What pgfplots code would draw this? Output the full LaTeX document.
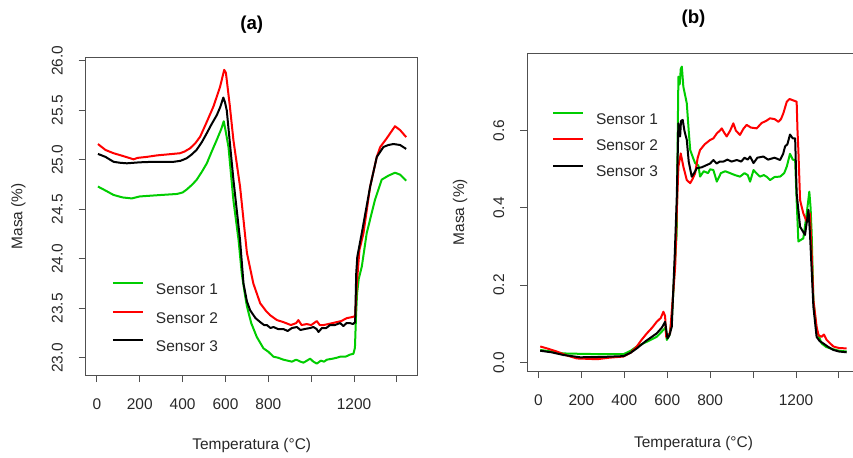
\documentclass[border=0pt]{standalone}
\usepackage{fontspec}
\setmainfont{Liberation Sans}
\usepackage{pgfplots}
\pgfplotsset{compat=1.18}

\definecolor{rgreen}{RGB}{0,205,0}
\definecolor{rred}{RGB}{255,0,0}
\definecolor{boxgray}{RGB}{80,80,80}
\definecolor{txt}{RGB}{40,40,40}

\pgfplotsset{
  rplot/.style={
    scale only axis,
    anchor=south west,
    axis line style={boxgray, line width=0.75pt},
    tick style={boxgray, line width=0.75pt},
    tick align=outside,
    major tick length=5.25pt,
    xtick pos=bottom, ytick pos=left,
    font=\fontsize{11.6}{13.9}\selectfont,
    every tick label/.append style={text=txt},
    /pgf/number format/assume math mode=true,
    xticklabel style={yshift=-9pt},
    yticklabel style={xshift=-8.5pt, rotate=90, anchor=south},
    xtick={0,200,400,600,800,1000,1200,1400},
    xticklabels={0,200,400,600,800,,1200,},
    xmin=-52, xmax=1497,
    xlabel={Temperatura (°C)},
    ylabel={Masa (\%)},
    label style={text=txt},
    title style={font=\fontsize{14}{16}\selectfont\bfseries, anchor=center},
    legend cell align=left,
    legend image code/.code={\draw[#1] (0pt,5.5pt) -- (22.5pt,5.5pt);},
    every axis plot/.append style={line width=1.5pt, line join=round},
  }
}

\begin{document}
\begin{tikzpicture}
\path[use as bounding box] (0,0) rectangle (639.75pt,342.75pt);

\begin{axis}[rplot,
  at={(64.3pt,61.5pt)}, width=249pt, height=238pt,
  ymin=22.825, ymax=26.033,
  ytick={23,23.5,24,24.5,25,25.5,26},
  yticklabels={23.0,23.5,24.0,24.5,25.0,25.5,26.0},
  title={(a)},
  title style={at={(axis description cs:0.5,1.0788)}},
  xlabel style={at={(axis description cs:0.5,-0.2215)}, anchor=center},
  ylabel style={at={(axis description cs:-0.2030,0.5)}, anchor=center},
  legend style={at={(axis description cs:0.0783,0.2925)}, anchor=north west,
    draw=none, fill=none, inner sep=0pt, column sep=9pt, row sep=9pt,
    nodes={inner sep=0pt, text height=9pt, text depth=3pt, text=txt}},
]
\addplot[rgreen] coordinates {(5,24.73) (40,24.69) (78,24.645) (120,24.62) (163,24.61) (200,24.63) (233,24.635) (300,24.645) (373,24.655) (400,24.67) (419,24.70) (445,24.75) (466,24.80) (490,24.88) (513,24.965) (535,25.08) (559,25.20) (580,25.31) (592,25.39) (600,25.30) (614,25.13) (637,24.59) (661,24.19) (676,23.85) (692,23.62) (700,23.52) (720,23.35) (746,23.21) (777,23.095) (800,23.06) (824,23.01) (845,23.00) (870,22.98) (890,22.97) (910,22.96) (930,22.98) (950,22.96) (964,22.95) (980,22.97) (995,22.99) (1010,22.96) (1026,22.94) (1045,22.97) (1060,22.96) (1073,22.98) (1100,22.99) (1120,23.00) (1135,23.01) (1160,23.01) (1180,23.03) (1197,23.04) (1204,23.10) (1209,23.42) (1214,23.65) (1222,23.80) (1236,23.92) (1259,24.26) (1298,24.60) (1329,24.80) (1360,24.84) (1391,24.87) (1415,24.85) (1443,24.79)};
\addlegendentry{Sensor 1}
\addplot[rred] coordinates {(5,25.16) (40,25.10) (78,25.067) (120,25.04) (150,25.02) (171,25.005) (190,25.02) (233,25.03) (280,25.045) (330,25.055) (388,25.067) (410,25.085) (435,25.117) (460,25.17) (482,25.235) (510,25.37) (544,25.54) (575,25.74) (594,25.91) (602,25.88) (620,25.55) (637,25.2) (668,24.73) (700,24.06) (730,23.75) (762,23.55) (790,23.47) (808,23.43) (840,23.38) (870,23.36) (905,23.33) (930,23.35) (940,23.38) (955,23.33) (979,23.34) (1000,23.33) (1026,23.37) (1040,23.33) (1057,23.33) (1080,23.34) (1100,23.35) (1119,23.36) (1140,23.37) (1166,23.40) (1190,23.41) (1205,23.42) (1213,23.75) (1225,24.09) (1244,24.26) (1275,24.73) (1306,25.03) (1322,25.13) (1353,25.22) (1391,25.34) (1415,25.30) (1443,25.23)};
\addlegendentry{Sensor 2}
\addplot[black] coordinates {(5,25.06) (40,25.03) (78,24.98) (110,24.97) (140,24.965) (200,24.975) (260,24.98) (300,24.98) (357,24.98) (390,24.99) (419,25.016) (440,25.05) (465,25.10) (490,25.18) (513,25.27) (535,25.36) (559,25.45) (575,25.53) (590,25.63) (598,25.58) (606,25.5) (637,24.80) (668,24.19) (684,23.75) (700,23.57) (715,23.48) (740,23.40) (762,23.36) (780,23.33) (793,23.33) (810,23.30) (824,23.31) (845,23.29) (870,23.29) (890,23.27) (910,23.30) (933,23.31) (950,23.28) (970,23.29) (995,23.30) (1010,23.31) (1025,23.29) (1034,23.26) (1050,23.30) (1070,23.30) (1088,23.33) (1110,23.33) (1135,23.35) (1150,23.32) (1165,23.35) (1181,23.35) (1195,23.34) (1205,23.36) (1210,23.85) (1215,24.02) (1236,24.26) (1275,24.73) (1306,25.03) (1337,25.13) (1360,25.15) (1384,25.16) (1415,25.15) (1443,25.11)};
\addlegendentry{Sensor 3}
\end{axis}

\begin{axis}[rplot,
  at={(395.5pt,64.5pt)}, width=249.3pt, height=238.3pt,
  ymin=-0.0225, ymax=0.8005,
  ytick={0,0.2,0.4,0.6},
  yticklabels={0.0,0.2,0.4,0.6},
  title={(b)},
  title style={at={(axis description cs:0.5,1.0828)}},
  xlabel style={at={(axis description cs:0.5,-0.2275)}, anchor=center},
  ylabel style={at={(axis description cs:-0.2025,0.5)}, anchor=center},
  legend style={at={(axis description cs:0.0734,0.816)}, anchor=north west,
    draw=none, fill=none, inner sep=0pt, column sep=9pt, row sep=7.5pt,
    nodes={inner sep=0pt, text height=9pt, text depth=3pt, text=txt}},
]
\addplot[rgreen] coordinates {(8,0.032) (60,0.028) (116,0.023) (194,0.022) (300,0.021) (396,0.021) (430,0.03) (458,0.041) (500,0.052) (551,0.066) (582,0.084) (592,0.09) (598,0.058) (610,0.07) (621,0.11) (635,0.25) (644,0.334) (649,0.6) (652,0.74) (658,0.72) (663,0.76) (668,0.766) (675,0.714) (691,0.671) (700,0.6) (707,0.55) (720,0.53) (730,0.516) (745,0.51) (753,0.481) (770,0.495) (790,0.49) (800,0.50) (815,0.498) (831,0.468) (850,0.49) (870,0.495) (893,0.49) (915,0.485) (939,0.481) (960,0.49) (975,0.485) (986,0.468) (1002,0.498) (1015,0.49) (1032,0.481) (1050,0.485) (1065,0.48) (1079,0.472) (1100,0.48) (1126,0.481) (1145,0.49) (1157,0.507) (1172,0.54) (1185,0.525) (1196,0.524) (1203,0.42) (1211,0.313) (1234,0.321) (1250,0.386) (1262,0.442) (1268,0.40) (1273,0.334) (1281,0.161) (1296,0.084) (1319,0.049) (1340,0.04) (1359,0.036) (1400,0.03) (1436,0.028)};
\addlegendentry{Sensor 1}
\addplot[rred] coordinates {(8,0.041) (40,0.036) (85,0.028) (130,0.018) (179,0.010) (230,0.009) (272,0.008) (330,0.012) (396,0.015) (430,0.025) (458,0.041) (480,0.058) (505,0.075) (530,0.09) (551,0.105) (570,0.115) (582,0.131) (590,0.12) (595,0.066) (613,0.075) (625,0.16) (637,0.248) (645,0.4) (652,0.507) (663,0.541) (675,0.507) (691,0.472) (707,0.464) (718,0.475) (730,0.49) (742,0.53) (753,0.55) (775,0.565) (800,0.576) (815,0.58) (831,0.593) (845,0.60) (854,0.606) (865,0.595) (877,0.585) (893,0.60) (908,0.619) (920,0.60) (939,0.589) (955,0.605) (970,0.615) (990,0.608) (1017,0.606) (1040,0.62) (1060,0.625) (1079,0.632) (1100,0.63) (1118,0.623) (1130,0.63) (1141,0.645) (1157,0.675) (1170,0.682) (1180,0.68) (1203,0.675) (1207,0.60) (1211,0.55) (1219,0.42) (1234,0.386) (1250,0.364) (1258,0.38) (1265,0.386) (1273,0.282) (1281,0.161) (1296,0.092) (1305,0.07) (1319,0.066) (1330,0.072) (1343,0.058) (1374,0.041) (1400,0.037) (1436,0.036)};
\addlegendentry{Sensor 2}
\addplot[black] coordinates {(8,0.03) (60,0.026) (116,0.019) (194,0.013) (300,0.014) (396,0.016) (430,0.025) (458,0.036) (500,0.055) (551,0.075) (575,0.09) (590,0.105) (601,0.062) (610,0.07) (621,0.092) (635,0.28) (644,0.42) (652,0.619) (656,0.59) (660,0.585) (664,0.625) (672,0.628) (680,0.60) (691,0.576) (700,0.52) (714,0.481) (725,0.49) (738,0.503) (760,0.505) (784,0.511) (800,0.515) (815,0.524) (830,0.515) (845,0.52) (862,0.52) (880,0.525) (900,0.52) (924,0.524) (945,0.52) (960,0.53) (975,0.525) (986,0.533) (1002,0.516) (1020,0.53) (1048,0.533) (1070,0.525) (1100,0.53) (1126,0.524) (1140,0.54) (1149,0.559) (1160,0.565) (1172,0.59) (1185,0.58) (1196,0.58) (1203,0.438) (1219,0.351) (1242,0.33) (1252,0.37) (1258,0.395) (1265,0.334) (1281,0.144) (1296,0.066) (1310,0.055) (1327,0.049) (1350,0.04) (1374,0.032) (1400,0.028) (1436,0.026)};
\addlegendentry{Sensor 3}
\end{axis}
\end{tikzpicture}
\end{document}
